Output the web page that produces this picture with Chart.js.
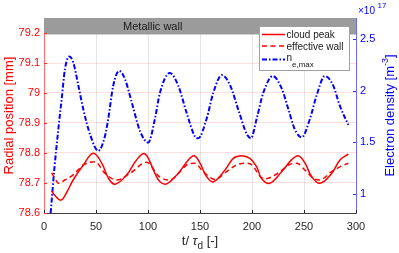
<!DOCTYPE html>
<html>
<head>
<meta charset="utf-8">
<script src="https://cdn.jsdelivr.net/npm/chart.js@4"></script>
<style>
  html, body { margin: 0; padding: 0; background: #fff; }
  canvas { display: block; }
</style>
</head>
<body>
<canvas id="wallChart" width="399" height="253"></canvas>
<script>
// values (t in units of tau_d)
const tCloud = [7.4, 10, 16.3, 22, 28, 37.8, 47.4, 55.5, 61.9, 68.3, 79.5, 89, 97, 106.7, 111.5, 118, 129, 138.8, 144.5, 150, 156.4, 162.8, 174, 182, 190, 198, 204.5, 209, 217, 228.6, 238, 244.5, 251, 257.4, 265.4, 276.6, 284.6, 292.6];
const cloudPeak = [78.674, 78.66, 78.643, 78.67, 78.71, 78.76, 78.799, 78.766, 78.716, 78.696, 78.727, 78.777, 78.797, 78.732, 78.704, 78.697, 78.732, 78.777, 78.791, 78.766, 78.721, 78.704, 78.743, 78.782, 78.791, 78.782, 78.754, 78.716, 78.699, 78.738, 78.777, 78.791, 78.766, 78.721, 78.699, 78.732, 78.777, 78.796];

const tWall = [7.4, 10.5, 13.8, 20, 28, 37.8, 49, 58.7, 70, 82.7, 98.8, 110.9, 121, 130.8, 137, 145, 153, 164.4, 175.6, 185, 193, 200, 208, 212.5, 227, 235, 243, 251, 259, 265, 276.6, 284.6, 292.6];
const effWall = [78.734, 78.715, 78.699, 78.71, 78.727, 78.76, 78.771, 78.732, 78.71, 78.732, 78.769, 78.721, 78.71, 78.738, 78.76, 78.766, 78.738, 78.712, 78.738, 78.76, 78.766, 78.76, 78.721, 78.714, 78.738, 78.76, 78.766, 78.743, 78.716, 78.71, 78.738, 78.754, 78.766];

const tDens = [6.4, 10, 13.8, 17, 20.2, 24.3, 28.2, 33, 37.8, 44.2, 52.2, 58.6, 61.8, 66.6, 72.4, 77.9, 84.3, 92.3, 100.3, 106.7, 111.5, 121, 129, 137, 145, 148.4, 156.4, 162.8, 171, 179, 187, 195, 199, 204.5, 210.9, 220, 228.6, 235, 241, 247.8, 255.8, 262, 270, 278, 284.6, 292.6];
const density = [0.82, 1.25, 1.63, 1.92, 2.21, 2.33, 2.27, 2.05, 1.82, 1.58, 1.42, 1.56, 1.73, 2.05, 2.19, 2.11, 1.89, 1.61, 1.50, 1.73, 1.98, 2.17, 2.05, 1.79, 1.56, 1.54, 1.73, 1.98, 2.15, 2.05, 1.81, 1.58, 1.54, 1.73, 1.98, 2.14, 2.02, 1.82, 1.63, 1.55, 1.73, 1.95, 2.14, 2.05, 1.85, 1.67]; // x1e17 m^-3

const xTicks = [0, 50, 100, 150, 200, 250, 300];
const leftTicks = [78.6, 78.7, 78.8, 78.9, 79, 79.1, 79.2];
const rightTicks = [1, 1.5, 2, 2.5];
const wallBand = [79.195, 79.25];

const FONT = '"Liberation Sans", Arial, sans-serif';

function pts(xs, ys) {
  return xs.map((x, i) => ({ x: x, y: ys[i] }));
}
function fixTicks(list) {
  return function(scale) { scale.ticks = list.map(v => ({ value: v })); };
}

// band, inward ticks, legend and axis titles drawn by hand
const decorPlugin = {
  id: 'decor',
  beforeDatasetsDraw(chart) {
    const ctx = chart.ctx, a = chart.chartArea, yL = chart.scales.yL;
    const top = yL.getPixelForValue(wallBand[1]);
    const bot = yL.getPixelForValue(wallBand[0]);
    ctx.save();
    ctx.fillStyle = '#9b9b9b';
    ctx.fillRect(a.left, top, a.right - a.left, bot - top);
    ctx.fillStyle = '#1a1a1a';
    ctx.font = '11px ' + FONT;
    ctx.textBaseline = 'middle';
    ctx.fillText('Metallic wall', chart.scales.x.getPixelForValue(76), (top + bot) / 2 + 0.5);
    ctx.restore();
  },
  afterDraw(chart) {
    const ctx = chart.ctx, a = chart.chartArea;
    const x = chart.scales.x, yL = chart.scales.yL, yR = chart.scales.yR;
    ctx.save();
    ctx.lineWidth = 1;
    // inward tick marks
    ctx.strokeStyle = '#ff3030';
    leftTicks.forEach(v => {
      const p = Math.round(yL.getPixelForValue(v)) + 0.5;
      ctx.beginPath(); ctx.moveTo(a.left, p); ctx.lineTo(a.left + 3, p); ctx.stroke();
    });
    ctx.strokeStyle = '#3030ff';
    rightTicks.forEach(v => {
      const p = Math.round(yR.getPixelForValue(v)) + 0.5;
      ctx.beginPath(); ctx.moveTo(a.right, p); ctx.lineTo(a.right - 3, p); ctx.stroke();
    });
    ctx.strokeStyle = '#262626';
    xTicks.forEach(v => {
      const p = Math.round(x.getPixelForValue(v)) + 0.5;
      ctx.beginPath(); ctx.moveTo(p, a.bottom); ctx.lineTo(p, a.bottom - 3); ctx.stroke();
    });

    // legend
    ctx.fillStyle = '#fff';
    ctx.fillRect(259.5, 26.5, 90, 44);
    ctx.strokeStyle = '#a0a0a0';
    ctx.strokeRect(259.5, 26.5, 90, 44);
    const rows = [
      { y: 34.5, color: '#ff0000', dash: [], w: 1.5 },
      { y: 46, color: '#ff0000', dash: [5, 3.5], w: 1.5 },
      { y: 59.5, color: '#0000ff', dash: [5, 2, 1.5, 2], w: 2 }
    ];
    rows.forEach(r => {
      ctx.strokeStyle = r.color; ctx.lineWidth = r.w; ctx.setLineDash(r.dash);
      ctx.beginPath(); ctx.moveTo(262, r.y); ctx.lineTo(285, r.y); ctx.stroke();
    });
    ctx.setLineDash([]);
    ctx.fillStyle = '#1a1a1a';
    ctx.textBaseline = 'alphabetic';
    ctx.font = '10px ' + FONT;
    ctx.fillText('cloud peak', 286.5, 38);
    ctx.fillText('effective wall', 286.5, 49.5);
    ctx.fillText('n', 286.5, 61);
    ctx.font = '8px ' + FONT;
    ctx.fillText('e,max', 292, 66.5);

    // exponent above right axis
    ctx.fillStyle = '#0000ff';
    ctx.font = '10px ' + FONT;
    ctx.fillText('\u00d710', 358, 14);
    ctx.font = '8px ' + FONT;
    ctx.fillText('17', 377.5, 8);

    // x title
    ctx.fillStyle = '#262626';
    const p1 = 't/ ', p3 = ' [-]';
    ctx.font = 'italic 13px ' + FONT;
    const wTau = ctx.measureText('\u03c4').width;
    ctx.font = '13px ' + FONT;
    const w1 = ctx.measureText(p1).width, w3 = ctx.measureText(p3).width;
    ctx.font = '10px ' + FONT;
    const wd = ctx.measureText('d').width;
    let cx = (a.left + a.right) / 2 - (w1 + wTau + wd + w3) / 2;
    ctx.font = '13px ' + FONT; ctx.fillText(p1, cx, 245); cx += w1;
    ctx.font = 'italic 13px ' + FONT; ctx.fillText('\u03c4', cx, 245); cx += wTau;
    ctx.font = '10px ' + FONT; ctx.fillText('d', cx, 248.5); cx += wd;
    ctx.font = '13px ' + FONT; ctx.fillText(p3, cx, 245);

    // left title
    ctx.save();
    ctx.translate(9, (a.top + a.bottom) / 2);
    ctx.rotate(-Math.PI / 2);
    ctx.fillStyle = '#ff0000';
    ctx.font = '13px ' + FONT;
    ctx.textAlign = 'center';
    ctx.textBaseline = 'middle';
    ctx.fillText('Radial position [mm]', 0, 0);
    ctx.restore();

    // right title with superscript
    ctx.save();
    ctx.translate(390, (a.top + a.bottom) / 2);
    ctx.rotate(-Math.PI / 2);
    ctx.fillStyle = '#0000ff';
    ctx.textBaseline = 'middle';
    const r1 = 'Electron density [m', r3 = ']';
    ctx.font = '13px ' + FONT;
    const rw1 = ctx.measureText(r1).width, rw3 = ctx.measureText(r3).width;
    ctx.font = '9px ' + FONT;
    const rw2 = ctx.measureText('-3').width;
    let rx = -(rw1 + rw2 + rw3) / 2;
    ctx.font = '13px ' + FONT; ctx.fillText(r1, rx, 0); rx += rw1;
    ctx.font = '9px ' + FONT; ctx.fillText('-3', rx, -4.5); rx += rw2;
    ctx.font = '13px ' + FONT; ctx.fillText(r3, rx, 0);
    ctx.restore();

    ctx.restore();
  }
};

new Chart(document.getElementById('wallChart'), {
  type: 'line',
  data: {
    datasets: [
      {
        label: 'cloud peak',
        data: pts(tCloud, cloudPeak),
        borderColor: '#ff0000',
        borderWidth: 1.5,
        pointRadius: 0,
        tension: 0.4,
        yAxisID: 'yL'
      },
      {
        label: 'effective wall',
        data: pts(tWall, effWall),
        borderColor: '#ff0000',
        borderWidth: 1.5,
        borderDash: [5, 3.5],
        pointRadius: 0,
        cubicInterpolationMode: 'monotone',
        yAxisID: 'yL'
      },
      {
        label: 'n e,max',
        data: pts(tDens, density),
        borderColor: '#0000ff',
        borderWidth: 2,
        borderDash: [5, 2, 1.5, 2],
        pointRadius: 0,
        cubicInterpolationMode: 'monotone',
        yAxisID: 'yR'
      }
    ]
  },
  options: {
    responsive: false,
    animation: false,
    devicePixelRatio: 1,
    layout: { padding: { top: 18, left: 0, right: 0, bottom: 0 } },
    plugins: { legend: { display: false }, tooltip: { enabled: false } },
    scales: {
      x: {
        type: 'linear', min: 0, max: 300,
        afterBuildTicks: fixTicks(xTicks),
        afterFit: s => { s.height = 40; },
        grid: { color: '#e6e6e6', drawTicks: false },
        border: { color: '#404040' },
        ticks: { color: '#262626', font: { family: FONT, size: 11 }, padding: 7, maxRotation: 0, autoSkip: false }
      },
      yL: {
        position: 'left', min: 78.6, max: 79.25,
        afterBuildTicks: fixTicks(leftTicks),
        afterFit: s => { s.width = 44; },
        grid: { color: 'rgba(255,0,0,0.13)', drawTicks: false },
        border: { color: '#ff6a6a' },
        ticks: {
          color: '#ff0000', font: { family: FONT, size: 11 }, padding: 4, autoSkip: false,
          callback: v => String(Number(v.toFixed(1)))
        }
      },
      yR: {
        position: 'right', min: 0.82, max: 2.7,
        afterBuildTicks: fixTicks(rightTicks),
        afterFit: s => { s.width = 43; },
        grid: { drawOnChartArea: false, drawTicks: false },
        border: { color: '#6a6aff' },
        ticks: {
          color: '#0000ff', font: { family: FONT, size: 11 }, padding: 4, autoSkip: false,
          callback: v => String(Number(v.toFixed(1)))
        }
      }
    }
  },
  plugins: [decorPlugin]
});
</script>
</body>
</html>
